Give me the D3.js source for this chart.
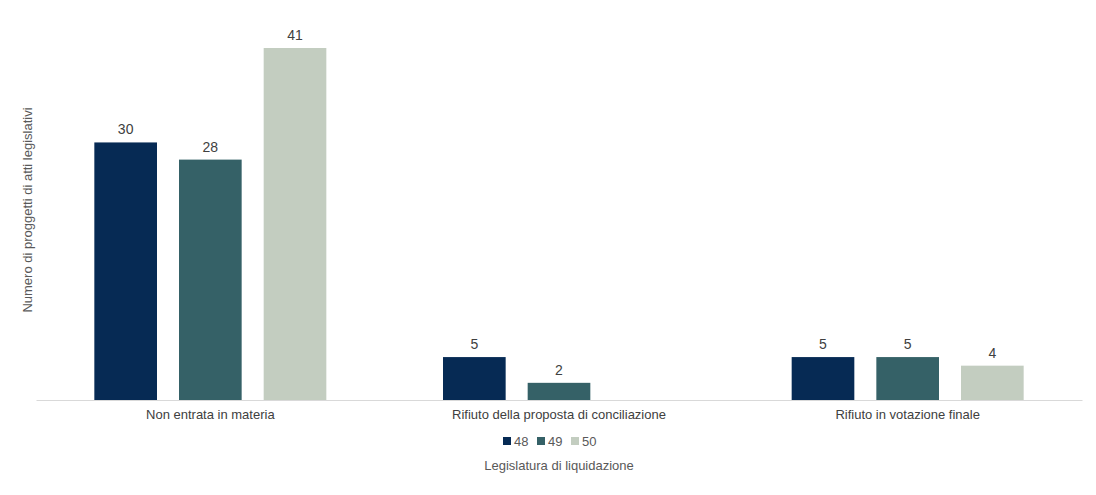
<!DOCTYPE html>
<html><head><meta charset="utf-8">
<script src="https://cdn.jsdelivr.net/npm/d3@7"></script>
<style>body{margin:0;background:#fff}text{font-family:"Liberation Sans",Arial,sans-serif}</style>
</head><body><svg id="c" width="1096" height="495"></svg>
<script>
const categories = ["Non entrata in materia", "Rifiuto della proposta di conciliazione", "Rifiuto in votazione finale"];
const series = ["48", "49", "50"];
const values48 = [30, 5, 5];
const values49 = [28, 2, 5];
const values50 = [41, null, 4];
const colors = ["#062a54", "#356167", "#c3cdc0"];

const all = [values48, values49, values50];
const W = 1096, H = 495, M = {t:48, r:14, b:95, l:36};
const svg = d3.select("#c");

const x = d3.scaleBand().domain(categories).range([M.l, W - M.r]);
const xs = d3.scaleBand().domain(series).range([x.bandwidth()/2 - 116, x.bandwidth()/2 + 116]).paddingInner(0.26);
const y = d3.scaleLinear().domain([0, 41]).range([H - M.b, M.t]);

const g = svg.append("g");
categories.forEach((c, ci) => {
  series.forEach((s, si) => {
    const v = all[si][ci];
    if (v == null) return;
    const bx = x(c) + xs(s);
    g.append("rect").attr("x", bx).attr("y", y(v)).attr("width", xs.bandwidth())
      .attr("height", y(0) - y(v)).attr("fill", colors[si]);
    g.append("text").attr("x", bx + xs.bandwidth()/2).attr("y", y(v) - 8)
      .attr("text-anchor", "middle").attr("font-size", 14).attr("fill", "#404040").text(v);
  });
});

const ax = svg.append("g").attr("transform", `translate(0,${y(0)})`)
  .call(d3.axisBottom(x).tickSize(0).tickPadding(10));
ax.select(".domain").attr("stroke", "#d9d9d9");
ax.selectAll("text").attr("font-size", 13).attr("fill", "#404040")
  .style("font-family", '"Liberation Sans",Arial,sans-serif');

// legend
const lg = svg.append("g").attr("transform", "translate(503,441)");
let lx = 0;
series.forEach((s, i) => {
  lg.append("rect").attr("x", lx).attr("y", -4).attr("width", 8).attr("height", 8).attr("fill", colors[i]);
  lg.append("text").attr("x", lx + 11).attr("y", 5).attr("font-size", 13).attr("fill", "#595959").text(s);
  lx += 34;
});

svg.append("text").attr("x", 559).attr("y", 470).attr("text-anchor", "middle")
  .attr("font-size", 13).attr("fill", "#595959").text("Legislatura di liquidazione");
svg.append("text").attr("transform", "translate(32,210) rotate(-90)").attr("text-anchor", "middle")
  .attr("font-size", 13).attr("fill", "#595959").text("Numero di proggetti di atti legislativi");
</script></body></html>
